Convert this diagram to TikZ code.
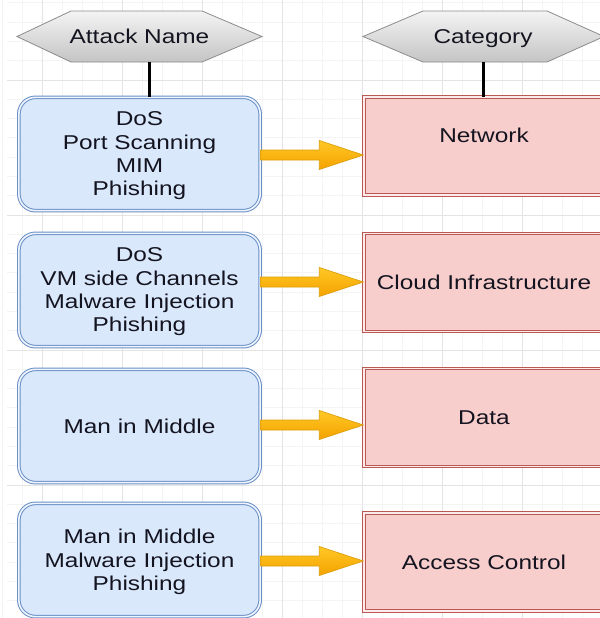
\documentclass[tikz,border=0pt]{standalone}
\usepackage{fontspec}
\setmainfont{Liberation Sans}[FakeStretch=1.22]
\usetikzlibrary{calc}
\definecolor{bluefill}{HTML}{DAE8FC}
\definecolor{blueline}{HTML}{6A8FC6}
\definecolor{redfill}{HTML}{F8CECC}
\definecolor{redline}{HTML}{BA5854}
\definecolor{gridminor}{HTML}{F4F4F4}
\definecolor{gridmajor}{HTML}{E4E4E4}
\definecolor{hexline}{HTML}{8C8C8C}
\definecolor{hextop}{HTML}{F4F4F4}
\definecolor{hexbot}{HTML}{C4C4C4}
\definecolor{arrtop}{HTML}{FFC825}
\definecolor{arrbot}{HTML}{F5A200}
\definecolor{arrline}{HTML}{DB9E0A}
\definecolor{inktext}{HTML}{141420}
\begin{document}
\begin{tikzpicture}[x=0.75pt,y=-0.75pt,
  txt/.style={font=\fontsize{15pt}{17.5pt}\selectfont, align=center, text=inktext, inner sep=0pt},
  attackbox/.style={txt, draw=blueline, fill=bluefill, double=bluefill!40!white,
    double distance=1.2pt, line width=0.75pt, rounded corners=12.5pt,
    minimum width=181pt, minimum height=85pt, text depth=-1pt},
  catbox/.style={txt, draw=redline, fill=redfill, double=redfill!40!white,
    double distance=1.2pt, line width=0.75pt,
    minimum width=180.3pt, minimum height=73.5pt, text depth=0pt},
  hexshape/.style={draw=hexline, line width=0.6pt, top color=hextop, bottom color=hexbot},
  hexlabel/.style={txt, minimum height=38.25pt, text depth=0pt},
  stem/.style={line width=2.25pt, black},
  fatarrow/.style={draw=arrline, line width=0.5pt, top color=arrtop, bottom color=arrbot}
]
\useasboundingbox (0,0) rectangle (600,618);
\clip (0,0) rectangle (600,618);
\fill[white] (0,0) rectangle (600,618);
% grid
\foreach \x in {2,22,...,602} \draw[gridminor, line width=0.75pt] (\x,0) -- (\x,618);
\foreach \i in {-4,...,28} \draw[gridminor, line width=0.75pt] (7,{80+\i*135/7}) -- (600,{80+\i*135/7});
\foreach \x in {42,122,...,602} \draw[gridmajor, line width=0.75pt] (\x,0) -- (\x,618);
\foreach \y in {80,215,350,485} \draw[gridmajor, line width=0.75pt] (7,\y) -- (600,\y);

% header hexagons
\path[hexshape] (17,36.5) -- (71,11) -- (202,11) -- (262,36.5) -- (202,62) -- (71,62) -- cycle;
\node[hexlabel] (h1) at (139.5,36.5) {Attack Name};
\path[hexshape] (363,36.5) -- (423,11) -- (547,11) -- (604,36.5) -- (547,62) -- (423,62) -- cycle;
\node[hexlabel] (h2) at (483,36.5) {Category};

% attack boxes
\node[attackbox] (b1) at (139.5,154) {DoS\\Port Scanning\\MIM\\Phishing};
\node[attackbox] (b2) at (139.5,290) {DoS\\VM side Channels\\Malware Injection\\Phishing};
\node[attackbox] (b3) at (139.5,426) {Man in Middle};
\node[attackbox] (b4) at (139.5,560) {Man in Middle\\Malware Injection\\Phishing};

% category boxes
\node[catbox] (r1) at (484,146) {};
\node[txt, text depth=0pt] (r1t) at (484,135) {Network};
\node[catbox] (r2) at (484,282.5) {Cloud Infrastructure};
\node[catbox] (r3) at (484,417.5) {Data};
\node[catbox] (r4) at (484,562) {Access Control};

% stems
\draw[stem] (h1.south -| 149,0) -- (b1.north -| 149,0);
\draw[stem] (h2.south -| 483,0) -- (r1.north -| 483,0);

% arrows
\coordinate (s1) at (b1.east |- 0,155); \coordinate (t1) at (r1.west |- s1);
\coordinate (s2) at (b2.east |- 0,282); \coordinate (t2) at (r2.west |- s2);
\coordinate (s3) at (b3.east |- 0,425); \coordinate (t3) at (r3.west |- s3);
\coordinate (s4) at (b4.east |- 0,561); \coordinate (t4) at (r4.west |- s4);
\foreach \k in {1,2,3,4}{
  \path[fatarrow] ($(s\k)+(0,-5)$) -- ($(t\k)+(-44,-5)$) -- ($(t\k)+(-44,-14.5)$) -- (t\k)
    -- ($(t\k)+(-44,14.5)$) -- ($(t\k)+(-44,5)$) -- ($(s\k)+(0,5)$) -- cycle;
}
\end{tikzpicture}
\end{document}
